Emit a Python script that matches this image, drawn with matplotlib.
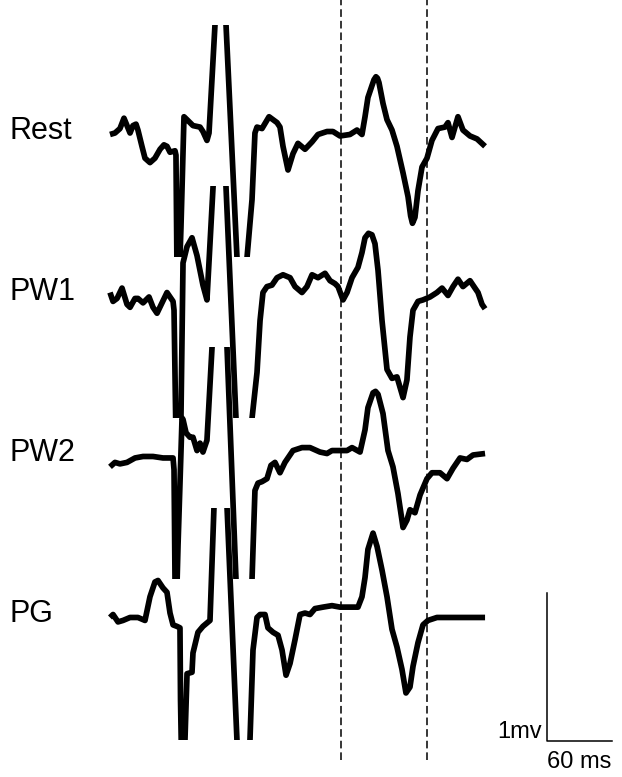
import matplotlib
matplotlib.use("Agg")
import matplotlib.pyplot as plt

plt.rcParams["font.family"] = ["Liberation Sans", "DejaVu Sans"]

# ECG traces: time (ms) and amplitude (mV)
rest_t = [0, 4.6, 9.2, 12.9, 15.7, 18.5, 21.2, 24, 25.8, 29.5, 32.3, 36.9, 41.5, 46.2, 49.8,
          52.6, 55.4, 60, 60.9, 62.3, 64.6, 65.5, 68.3, 71.1, 76.6, 83.1, 85.8, 89.5, 91.4,
          96.9, 102.5, 107.1, 117.2, 120.9, 126.5, 131.1, 133.8, 135.7, 140.3, 146.8, 150.5,
          154.2, 156.9, 159.7, 164.3, 168.9, 173.5, 180, 186.5, 192, 200.3, 205.8, 212.3,
          221.5, 228, 232.6, 235.4, 238.1, 241.8, 243.7, 245.5, 246.9, 248.3, 252, 255.7,
          260.3, 264.9, 270.5, 275.1, 277.5, 279.2, 281.5, 284.3, 288, 292.6, 297.2, 302.8,
          309.2, 312, 315.7, 321.2, 325.8, 332.3, 338.8, 346.2]
rest_mv = [-0.01, 0.00, 0.03, 0.10, 0.05, 0.00, 0.05, 0.06, 0.02, -0.09, -0.17, -0.20, -0.17,
           -0.11, -0.08, -0.09, -0.13, -0.12, -0.15, -1.33, -0.84, -0.64, 0.11, 0.09, 0.05,
           0.04, 0.01, -0.05, 0.00, 0.73, 1.45, 0.73, -0.84, -1.43, -0.84, -0.45, 0.00, 0.04,
           0.03, 0.11, 0.09, 0.07, 0.04, -0.09, -0.25, -0.14, -0.07, -0.11, -0.06, -0.01,
           0.01, 0.01, -0.02, -0.01, 0.02, -0.01, 0.11, 0.24, 0.32, 0.36, 0.38, 0.37, 0.34,
           0.20, 0.09, 0.02, -0.09, -0.27, -0.43, -0.56, -0.61, -0.57, -0.39, -0.23, -0.17,
           -0.05, 0.03, 0.04, 0.07, -0.03, 0.11, 0.02, -0.02, -0.04, -0.09]

pw1_t = [0, 2.8, 6.5, 11.1, 15.7, 18.5, 23.1, 25.8, 30.5, 36, 39.7, 43.4, 48, 52.6, 55.4,
         58.2, 59.1, 61.5, 65.5, 67.4, 71.1, 75.7, 80.3, 85.8, 89.5, 95.1, 101.5, 107.1,
         116.3, 121.3, 131.1, 135.7, 138.5, 141.2, 144.9, 149.5, 154.2, 159.7, 166.2, 170.8,
         177.2, 181.8, 186.5, 192, 198.5, 203.1, 207.7, 210.5, 215.1, 218.8, 223.4, 228.9,
         232.6, 235.4, 238.6, 241.8, 244.6, 247.4, 251.1, 255.7, 260.3, 264.9, 267.7, 270.5,
         274.1, 276.9, 279.7, 284.3, 288.9, 295.4, 301.8, 306.5, 312, 316.6, 321.2, 325.8,
         332.3, 336.9, 339.7, 343.4, 346.2]
pw1_mv = [0.01, -0.05, -0.03, 0.04, -0.07, -0.09, -0.03, -0.03, -0.06, -0.02, -0.09, -0.13,
          -0.06, 0.01, -0.02, -0.05, -0.11, -1.26, -0.84, 0.21, 0.32, 0.38, 0.26, 0.06, -0.04,
          0.72, 1.64, 0.72, -0.84, -1.70, -0.84, -0.53, -0.18, 0.01, 0.05, 0.06, 0.11, 0.13,
          0.11, 0.05, 0.01, 0.05, 0.13, 0.11, 0.14, 0.09, 0.07, 0.05, -0.04, 0.01, 0.11, 0.18,
          0.28, 0.38, 0.41, 0.40, 0.34, 0.16, -0.18, -0.51, -0.57, -0.56, -0.63, -0.70, -0.58,
          -0.29, -0.11, -0.05, -0.04, -0.02, 0.01, 0.04, -0.01, 0.05, 0.10, 0.05, 0.09, 0.04,
          0.01, -0.07, -0.10]

pw2_t = [0, 4.6, 9.2, 15.7, 23.1, 30.5, 39.7, 48.9, 58.2, 59.1, 60.5, 62.8, 66.5, 67.4, 70.2,
         73.8, 76.6, 80.3, 83.1, 85.8, 89.5, 94.2, 101.7, 108, 116.3, 122.8, 131.1, 133.8,
         136.6, 140.3, 144.9, 148.6, 152.3, 156.9, 161.5, 168.9, 177.2, 184.6, 193.8, 200.3,
         204.9, 212.3, 218.8, 223.4, 230.8, 235.4, 238.1, 242.8, 245.1, 247.4, 252, 256.6,
         261.2, 265.8, 270.5, 274.1, 276.9, 281.5, 286.2, 292.6, 297.2, 304.6, 311.1, 316.6,
         323.1, 329.5, 335.1, 346.2]
pw2_mv = [-0.08, -0.05, -0.06, -0.05, -0.02, -0.01, -0.01, -0.02, -0.02, -0.10, -1.25, -0.61,
          0.25, 0.24, 0.15, 0.12, 0.12, 0.03, 0.08, 0.02, 0.10, 0.73, 1.82, 0.73, -0.84, -2.06,
          -0.84, -0.24, -0.19, -0.18, -0.16, -0.07, -0.05, -0.12, -0.05, 0.03, 0.05, 0.05,
          0.02, 0.01, 0.03, 0.03, 0.03, 0.05, 0.02, 0.17, 0.32, 0.42, 0.43, 0.41, 0.28, 0.03,
          -0.08, -0.26, -0.49, -0.44, -0.37, -0.39, -0.27, -0.16, -0.12, -0.12, -0.16, -0.09,
          -0.02, -0.03, 0.00, 0.01]

pg_t = [0, 2.8, 7.4, 12, 18.5, 25.8, 32.3, 36.9, 41.5, 44.3, 48.9, 52.6, 55.4, 58.2, 61.8,
        64.6, 65.1, 67, 69.2, 71.1, 75.7, 76.6, 81.2, 85.8, 92.3, 96, 101.5, 108, 117.2, 123.7,
        129.2, 132, 135.7, 138.5, 143.1, 145.8, 150.5, 155.1, 158.8, 162.5, 166.2, 170.8,
        175.4, 180, 184.6, 189.2, 196.6, 204.9, 212.3, 228.9, 232.6, 235.4, 238.1, 242.8,
        246.5, 251.1, 255.7, 260.3, 264.9, 269.5, 273.2, 276.9, 279.7, 284.3, 288.9, 293.5,
        301.8, 311.1, 323.1, 335.1, 346.2]
pg_mv = [-0.01, 0.01, -0.04, -0.03, -0.01, -0.01, -0.03, 0.13, 0.23, 0.24, 0.19, 0.16, 0.02,
         -0.06, -0.07, -0.08, -0.57, -1.38, -0.84, -0.39, -0.38, -0.25, -0.11, -0.07, -0.03,
         0.74, 1.85, 0.74, -0.84, -1.92, -0.84, -0.23, -0.01, 0.01, 0.01, -0.08, -0.11, -0.13,
         -0.23, -0.40, -0.32, -0.16, 0.01, 0.02, 0.01, 0.05, 0.06, 0.07, 0.06, 0.06, 0.13,
         0.26, 0.45, 0.56, 0.47, 0.31, 0.13, -0.09, -0.21, -0.36, -0.52, -0.48, -0.34, -0.18,
         -0.06, -0.03, -0.01, -0.01, -0.01, -0.01, -0.01]

labels = ["Rest", "PW1", "PW2", "PG"]
marker_times = [213, 293]   # dashed reference lines (ms)
scale_ms = 60
scale_mv = 1

traces = [(rest_t, rest_mv), (pw1_t, pw1_mv), (pw2_t, pw2_mv), (pg_t, pg_mv)]

# layout (pixels)
W, H = 622, 777
PX_MS = 65 / 60      # px per ms
PX_MV = 148          # px per mV
X0 = 110             # px of t = 0
BASES = [133, 294, 455, 616]
WIN_UP, WIN_DN = 108, 124   # visible window above / below baseline

xlim = (-X0 / PX_MS, (W - X0) / PX_MS)

fig = plt.figure(figsize=(W / 100, H / 100), dpi=100)

# overlay axes for dashed markers and scale bar
ax0 = fig.add_axes([0, 0, 1, 1])
ax0.set_xlim(xlim)
ax0.set_ylim(-H / PX_MV, 0)
ax0.axis("off")
ax0.vlines(marker_times, -760 / PX_MV, 0, colors="black", linewidth=1.1,
           linestyles=(0, (5, 2.6)))

sb_t = (547 - X0) / PX_MS
sb_v = -741 / PX_MV
ax0.plot([sb_t, sb_t, sb_t + scale_ms], [sb_v + scale_mv, sb_v, sb_v],
         color="black", linewidth=1.1)
ax0.text(sb_t - 5, sb_v + 0.02, f"{scale_mv}mv", ha="right", va="baseline", fontsize=17)
ax0.text(sb_t, sb_v - 0.07, f"{scale_ms} ms", ha="left", va="top", fontsize=17)

for (t, mv), base, lab in zip(traces, BASES, labels):
    bottom = 1 - (base + WIN_DN) / H
    ax = fig.add_axes([0, bottom, 1, (WIN_UP + WIN_DN) / H])
    ax.set_xlim(xlim)
    ax.set_ylim(-WIN_DN / PX_MV, WIN_UP / PX_MV)
    ax.axis("off")
    ax.patch.set_alpha(0)
    ax.plot(t, mv, color="black", linewidth=4.1, solid_joinstyle="round",
            solid_capstyle="butt")
    fig.text(10 / W, 1 - (base - 2) / H, lab, ha="left", va="center", fontsize=22)

fig.savefig("out.png", dpi=100)
